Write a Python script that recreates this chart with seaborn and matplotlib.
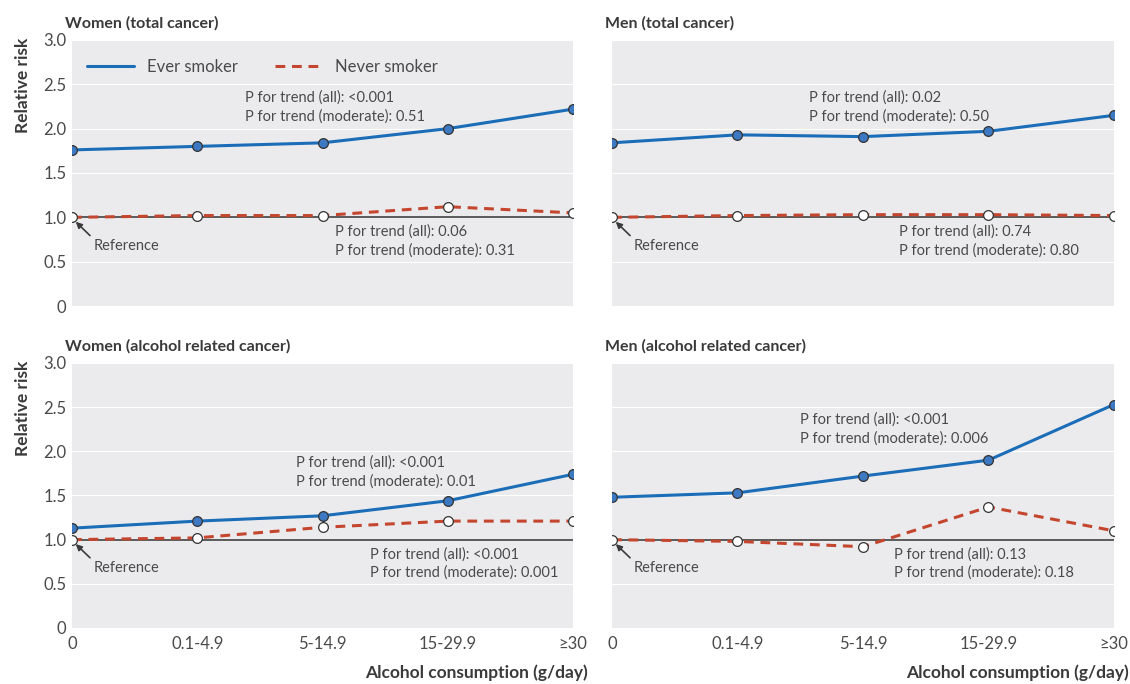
import pandas as pd
import seaborn as sns
import matplotlib.pyplot as plt
from matplotlib.lines import Line2D

# alcohol groups
groups = ['0', '0.1-4.9', '5-14.9', '15-29.9', '≥30']

titles = ['Women (total cancer)', 'Men (total cancer)',
          'Women (alcohol related cancer)', 'Men (alcohol related cancer)']

# relative risk
ever_women_total = [1.76, 1.80, 1.84, 2.00, 2.22]
never_women_total = [1.00, 1.02, 1.02, 1.12, 1.05]
ever_men_total = [1.84, 1.93, 1.91, 1.97, 2.15]
never_men_total = [1.00, 1.02, 1.03, 1.03, 1.02]
ever_women_alc = [1.13, 1.21, 1.27, 1.44, 1.74]
never_women_alc = [1.00, 1.02, 1.14, 1.21, 1.21]
ever_men_alc = [1.48, 1.53, 1.72, 1.90, 2.53]
never_men_alc = [1.00, 0.98, 0.92, 1.37, 1.10]

ever_text = ['P for trend (all): <0.001\nP for trend (moderate): 0.51',
             'P for trend (all): 0.02\nP for trend (moderate): 0.50',
             'P for trend (all): <0.001\nP for trend (moderate): 0.01',
             'P for trend (all): <0.001\nP for trend (moderate): 0.006']
never_text = ['P for trend (all): 0.06\nP for trend (moderate): 0.31',
              'P for trend (all): 0.74\nP for trend (moderate): 0.80',
              'P for trend (all): <0.001\nP for trend (moderate): 0.001',
              'P for trend (all): 0.13\nP for trend (moderate): 0.18']
# where the p-value notes sit (x index, y value)
ever_pos = [(1.38, 2.24), (1.57, 2.24), (1.79, 1.77), (1.50, 2.25)]
never_pos = [(2.10, 0.73), (2.29, 0.73), (2.38, 0.73), (2.25, 0.73)]

ever = [ever_women_total, ever_men_total, ever_women_alc, ever_men_alc]
never = [never_women_total, never_men_total, never_women_alc, never_men_alc]

sns.set_style('darkgrid', {'axes.facecolor': '#ebebed', 'grid.color': 'white',
                           'grid.linewidth': 2.0})
plt.rcParams['font.family'] = ['Lato', 'DejaVu Sans']

BLUE = '#1b6db8'
RED = '#c4462f'
TXT = '#4a4a4a'

fig = plt.figure(figsize=(11.3, 6.84), dpi=100)
boxes = [[0.0637, 0.5526, 0.4434, 0.389], [0.5416, 0.5526, 0.4442, 0.389],
         [0.0637, 0.0819, 0.4434, 0.3874], [0.5416, 0.0819, 0.4442, 0.3874]]

for i in range(4):
    ax = fig.add_axes(boxes[i])
    df = pd.DataFrame({'x': range(len(groups)), 'ever': ever[i], 'never': never[i]})
    ax.axhline(1.0, color='#5a5a5a', lw=1.4, zorder=2)
    sns.lineplot(data=df, x='x', y='ever', ax=ax, color=BLUE, lw=2.2, marker='o',
                 markersize=7, markerfacecolor='#3d78c2', markeredgecolor='#333333',
                 markeredgewidth=0.9, zorder=4)
    sns.lineplot(data=df, x='x', y='never', ax=ax, color=RED, lw=2.2, dashes=(3.2, 2.2),
                 marker='o', markersize=7, markerfacecolor='white',
                 markeredgecolor='#333333', markeredgewidth=0.9, zorder=3)
    ax.set_xlim(0, 4)
    ax.set_ylim(0, 3)
    ax.set_yticks([0, 0.5, 1.0, 1.5, 2.0, 2.5, 3.0])
    ax.set_xticks(range(len(groups)))
    ax.grid(axis='x', visible=False)
    for s in ax.spines.values():
        s.set_visible(False)
    ax.tick_params(axis='x', direction='in', length=5, width=1.5, color='white',
                   labelsize=12, labelcolor=TXT, pad=6)
    ax.tick_params(axis='y', length=0, labelsize=12, labelcolor=TXT, pad=4)
    if i % 2 == 0:
        ax.set_yticklabels(['0', '0.5', '1.0', '1.5', '2.0', '2.5', '3.0'])
        ax.text(-0.098, 0.83, 'Relative risk', transform=ax.transAxes, rotation=90,
                ha='center', va='center', fontsize=12.5, fontweight='bold', color='#3a3a3a')
    else:
        ax.set_yticklabels([])
    if i >= 2:
        ax.set_xticklabels(groups)
        ax.text(1.03, -0.17, 'Alcohol consumption (g/day)', transform=ax.transAxes,
                ha='right', va='center', fontsize=12.5, fontweight='bold', color='#3a3a3a')
    else:
        ax.set_xticklabels([])
    ax.set_xlabel('')
    ax.set_ylabel('')
    ax.text(-0.014, 1.035, titles[i], transform=ax.transAxes, ha='left', va='bottom',
            fontsize=11.5, fontweight='bold', color='#3a3a3a')
    ax.text(ever_pos[i][0], ever_pos[i][1], ever_text[i], ha='left', va='center',
            fontsize=10.5, color=TXT, linespacing=1.4)
    ax.text(never_pos[i][0], never_pos[i][1], never_text[i], ha='left', va='center',
            fontsize=10.5, color=TXT, linespacing=1.4)
    ax.annotate('Reference', xy=(0.03, 0.95), xytext=(0.17, 0.68), ha='left', va='center',
                fontsize=10.5, color=TXT,
                arrowprops=dict(arrowstyle='-|>', color='#3a3a3a', lw=1.2,
                                mutation_scale=9, shrinkA=0, shrinkB=0, relpos=(0.0, 1.0)))
    if i == 0:
        handles = [Line2D([], [], color=BLUE, lw=2.2),
                   Line2D([], [], color=RED, lw=2.2, dashes=(3.2, 2.2))]
        ax.legend(handles, ['Ever smoker', 'Never smoker'], loc='upper left',
                  bbox_to_anchor=(0.0, 0.985), frameon=False, ncol=2, fontsize=12,
                  handlelength=2.8, columnspacing=2.2, labelcolor=TXT)

fig.savefig('out.png', dpi=100)
